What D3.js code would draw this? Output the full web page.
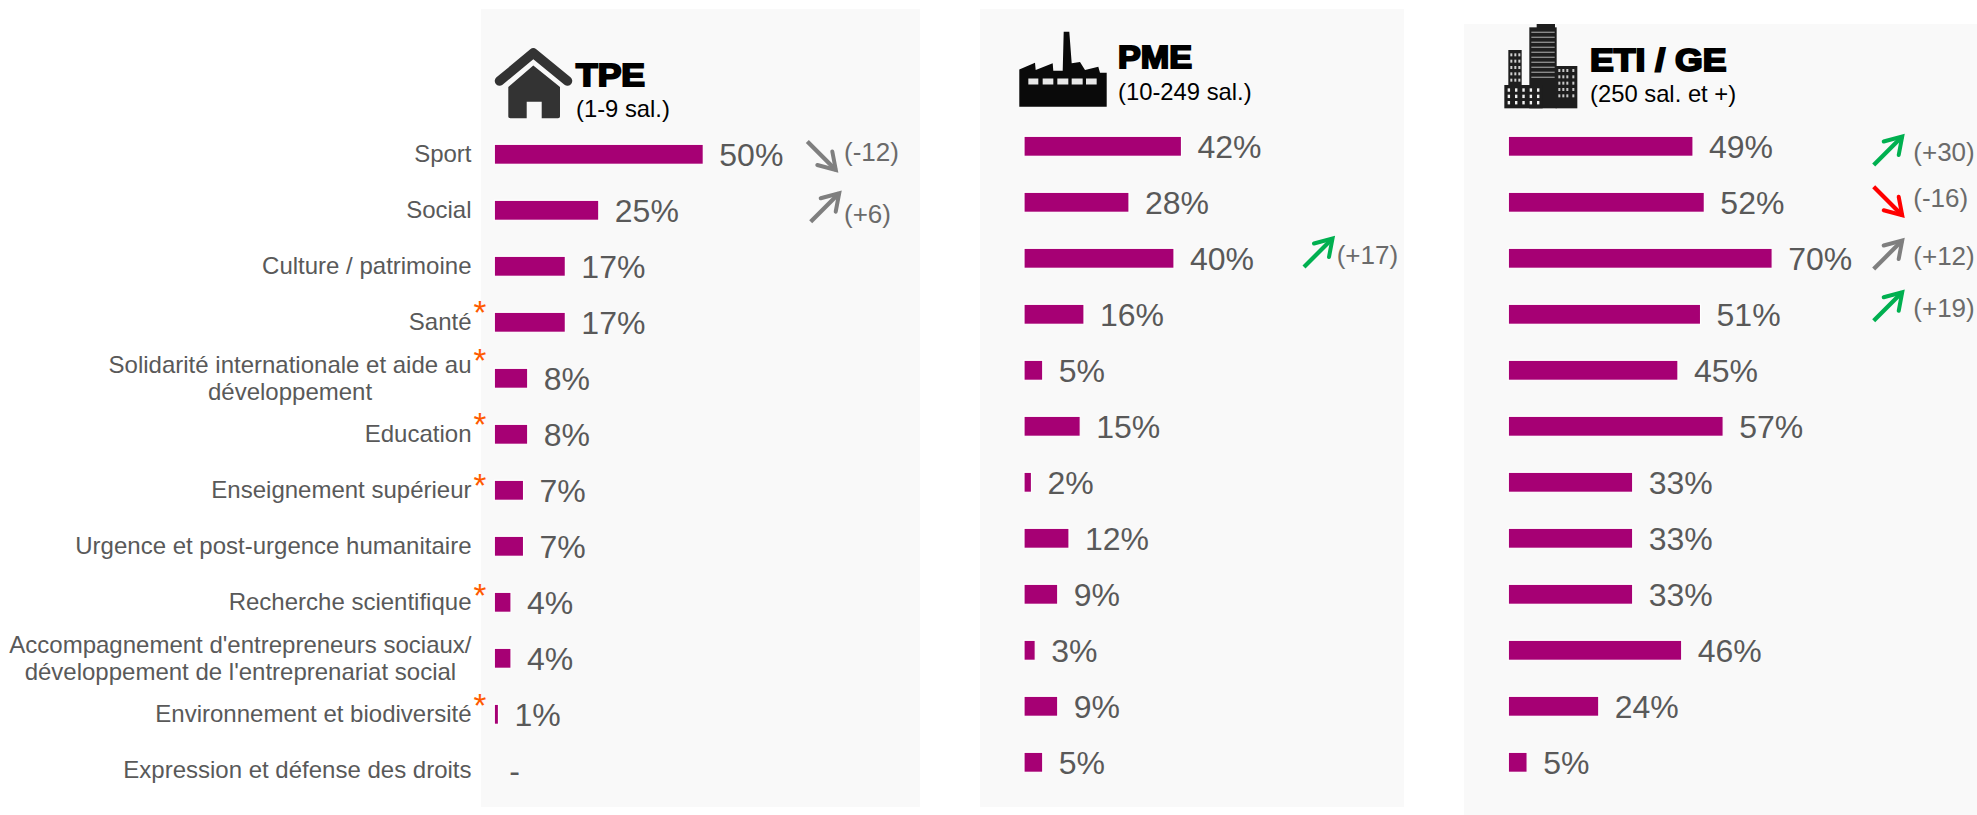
<!DOCTYPE html>
<html><head><meta charset="utf-8">
<script src="https://cdn.jsdelivr.net/npm/d3@7/dist/d3.min.js"></script>
<style>html,body{margin:0;background:#fff}svg{display:block}text{font-family:"Liberation Sans",Arial,sans-serif}</style>
</head><body><svg id="c" width="1977" height="815"></svg>
<script>
const categories = ["Sport","Social","Culture / patrimoine","Santé","Solidarité internationale et aide au|développement","Education","Enseignement supérieur","Urgence et post-urgence humanitaire","Recherche scientifique","Accompagnement d'entrepreneurs sociaux/|développement de l'entreprenariat social","Environnement et biodiversité","Expression et défense des droits"];
const starred = ["Santé","Solidarité internationale et aide au|développement","Education","Enseignement supérieur","Recherche scientifique","Environnement et biodiversité"];
const tpeValues = [50,25,17,17,8,8,7,7,4,4,1,null];
const pmeValues = [42,28,40,16,5,15,2,12,9,3,9,5];
const etiValues = [49,52,70,51,45,57,33,33,33,46,24,5];
const tpeDeltas = [-12,6,null,null,null,null,null,null,null,null,null,null];
const pmeDeltas = [null,null,17,null,null,null,null,null,null,null,null,null];
const etiDeltas = [30,-16,12,19,null,null,null,null,null,null,null,null];
const tpeDeltaTone = ["grey","grey"];
const pmeDeltaTone = [null,null,"green"];
const etiDeltaTone = ["green","red","grey","green"];

const tones = {grey:"#7f7f7f",green:"#00b050",red:"#ff0000"};
const starOffsets = [-15,-23.3,-15,-9.6,-11.7,-13.8];
const svg = d3.select("#c");
// arrows: row -> [start x, mid-y offset from the row, label x, label offset from the row]
const panels = [
 {title:"TPE",sub:"(1-9 sal.)",values:tpeValues,deltas:tpeDeltas,tone:tpeDeltaTone,box:[481,9,920,807],x0:494.3,pxPerPct:4.18,y0:154.3,tx:576,tb:86,tw:69,sb:117,
  arrows:{0:[807.3,2.2,844,0.5],1:[810.7,-3.6,844,5.7]}},
 {title:"PME",sub:"(10-249 sal.)",values:pmeValues,deltas:pmeDeltas,tone:pmeDeltaTone,box:[980,9,1404,807],x0:1024,pxPerPct:3.75,y0:146.3,tx:1118,tb:68.3,tw:74,sb:99.5,
  arrows:{2:[1304,-6.3,1336.7,-0.5]}},
 {title:"ETI / GE",sub:"(250 sal. et +)",values:etiValues,deltas:etiDeltas,tone:etiDeltaTone,box:[1464,24,1977,815],x0:1508.3,pxPerPct:3.77,y0:146.3,tx:1590,tb:70.7,tw:136.5,sb:101.7,
  arrows:{0:[1873.7,3.7,1913.3,8],1:[1873.7,-0.5,1913.3,-2.3],2:[1873.7,-4.3,1913.3,0.5],3:[1873.7,-8.5,1913.3,-3.5]}}
];
const barH = 20, step = 56;

panels.forEach((p,pi)=>{
  const g = svg.append("g");
  g.append("rect").attr("x",p.box[0]).attr("y",p.box[1]).attr("width",p.box[2]-p.box[0]).attr("height",p.box[3]-p.box[1]).attr("fill","#f9f9f9");
  const x = d3.scaleLinear().domain([0,100]).range([p.x0,p.x0+100*p.pxPerPct]);
  const y = d3.scalePoint().domain(categories).range([p.y0,p.y0+step*(categories.length-1)]);
  const rows = categories.map((c,i)=>({c,i,v:p.values[i],d:p.deltas[i],t:p.tone[i]}));

  g.selectAll("rect.bar").data(rows.filter(r=>r.v!=null)).join("rect").attr("class","bar")
    .attr("x",x(0)).attr("y",r=>y(r.c)-barH/2).attr("width",r=>x(r.v)-x(0)).attr("height",barH)
    .attr("fill","#a60074").attr("stroke","#ffffff").attr("stroke-width",1.2);

  g.selectAll("text.val").data(rows).join("text").attr("class","val")
    .attr("x",r=>r.v==null?p.x0+15:x(r.v)+16).attr("y",r=>y(r.c)+12)
    .attr("font-size",32).attr("fill","#595959")
    .text(r=>r.v==null?"-":r.v+"%");

  g.append("text").attr("x",p.tx).attr("y",p.tb).attr("font-size",32).attr("font-weight",700)
    .attr("stroke","#000").attr("stroke-width",2).attr("fill","#000")
    .attr("textLength",p.tw).attr("lengthAdjust","spacingAndGlyphs").text(p.title);
  g.append("text").attr("x",p.tx).attr("y",p.sb).attr("font-size",23.8).attr("fill","#000").text(p.sub);

  rows.filter(r=>r.d!=null).forEach(r=>{
    const a = p.arrows[r.i], col = tones[r.t], cy = y(r.c)+a[1];
    const dir = r.d>0?-1:1;           // -1 points up, +1 points down
    const sx=a[0], ex=a[0]+30, sy=cy-dir*15, ey=cy+dir*15;
    g.append("line").attr("x1",sx).attr("y1",sy).attr("x2",ex-1.5).attr("y2",ey-dir*1.5)
      .attr("stroke",col).attr("stroke-width",4.2);
    g.append("path").attr("d",`M${ex-20},${ey-dir*6.5}L${ex-1.5},${ey-dir*1.5}L${ex-5},${ey-dir*20}`)
      .attr("fill","none").attr("stroke",col).attr("stroke-width",4).attr("stroke-linejoin","miter").attr("stroke-linecap","round");
    g.append("text").attr("x",a[2]).attr("y",y(r.c)+a[3]+6.5).attr("font-size",26).attr("fill","#6b6b6b")
      .text("("+(r.d>0?"+":"-")+Math.abs(r.d)+")");
  });

  if(pi===0){
    const labelRight = 471.5, lh = 27.5;
    rows.forEach(r=>{
      const lines = r.c.split("|");
      const t = g.append("text").attr("font-size",24).attr("fill","#595959");
      if(lines.length===1){
        t.attr("x",labelRight).attr("y",y(r.c)+8).attr("text-anchor","end").text(lines[0]);
      } else {
        t.attr("text-anchor","middle");
        const spans = lines.map((l,k)=>t.append("tspan").attr("y",y(r.c)-lh/2+8+k*lh).text(l));
        const w = d3.max(spans,s=>s.node().getComputedTextLength());
        spans.forEach(s=>s.attr("x",labelRight-w/2));
      }
      const si = starred.indexOf(r.c);
      if(si>=0){
        g.append("text").attr("x",473.6).attr("y",y(r.c)+starOffsets[si]+16.6).attr("font-size",33).attr("fill","#ff5a00").text("*");
      }
    });
  }
});

// icons
const house = svg.append("g").attr("fill","#333");
house.append("path").attr("d","M499.5,81L533.3,53L567.5,81").attr("fill","none").attr("stroke","#333").attr("stroke-width",9.5).attr("stroke-linecap","round").attr("stroke-linejoin","round");
house.append("path").attr("d","M508.3,87L533.3,65.5L560,87V116.5Q560,118.3 558,118.3H541.7V101.7H526.7V118.3H510.3Q508.3,118.3 508.3,116.5Z");

const fac = svg.append("g");
fac.append("path").attr("fill","#0a0a0a").attr("d","M1019.3,69.5L1035,62.7L1035.7,70L1052.7,63.3L1053.3,70.7H1062.7L1063.7,31.7H1069.3L1071.7,63.3L1080,62L1085,70L1098.3,66.7L1100,72.7H1106.7V106.7H1019.3Z");
[[175,205],[218,250],[262,295],[305,338],[348,380]].forEach(w=>{
  fac.append("rect").attr("x",970+w[0]/3).attr("y",78.5).attr("width",(w[1]-w[0])/3).attr("height",6).attr("fill","#e8e8e8");
});

const city = svg.append("g").attr("fill","#1e1e1e");
const cx=v=>1460+v/3, cy=v=>v/3;
[[230,72,285,85],[208,82,290,325],[145,150,185,258],[287,198,352,325],[133,255,248,325]].forEach(b=>{
  city.append("rect").attr("x",cx(b[0])).attr("y",cy(b[1])).attr("width",(b[2]-b[0])/3).attr("height",(b[3]-b[1])/3);
});
for(let yy=95;yy<245;yy+=15) city.append("rect").attr("x",cx(214)).attr("y",cy(yy)).attr("width",(284-214)/3).attr("height",1.2).attr("fill","#9a9a9a");
for(let yy=160;yy<250;yy+=19) for(const xx of [151,163,175]) city.append("rect").attr("x",cx(xx)).attr("y",cy(yy)).attr("width",2).attr("height",3).attr("fill","#d0d0d0");
for(let yy=207;yy<300;yy+=19) for(const xx of [295,307,319,337]) city.append("rect").attr("x",cx(xx)).attr("y",cy(yy)).attr("width",2).attr("height",3).attr("fill","#c8c8c8");
for(let yy=265;yy<320;yy+=19) for(const xx of [143,165,187,209,231]) city.append("rect").attr("x",cx(xx)).attr("y",cy(yy)).attr("width",2.4).attr("height",3.4).attr("fill","#f0f0f0");
</script></body></html>
